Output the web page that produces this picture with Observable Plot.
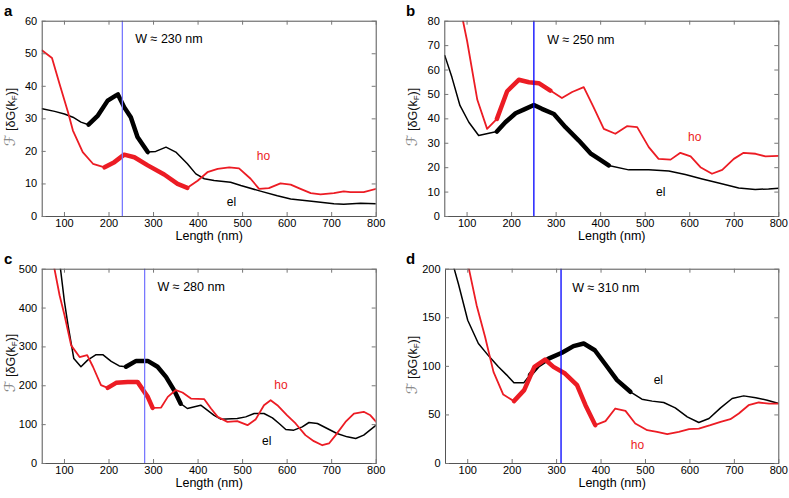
<!DOCTYPE html>
<html><head><meta charset="utf-8">
<script src="https://cdn.jsdelivr.net/npm/d3@7"></script>
<script src="https://cdn.jsdelivr.net/npm/@observablehq/plot@0.6"></script>
<style>
body{margin:0;background:#fff;font-family:"Liberation Sans",Arial,sans-serif;}
#root{position:relative;width:789px;height:498px;overflow:hidden;background:#fff}
.panel{position:absolute}
.letter{position:absolute;font-weight:bold;font-size:15px;line-height:1;color:#000}
.ylab{position:absolute;transform:translate(-50%,-50%) rotate(-90deg);white-space:nowrap;font-size:12.5px;color:#111;line-height:1}
.ylab .sf{color:#8a8a8a;font-family:"DejaVu Serif","DejaVu Sans",serif;font-style:italic;font-size:15px}
.ylab sub{font-size:8px;vertical-align:-2px}
</style></head><body><div id="root"></div><script>
// ---- data ----
const xTicks = [100, 200, 300, 400, 500, 600, 700, 800];

const aYTicks = [0, 10, 20, 30, 40, 50, 60];
const aElX = [50,78,100,119,137,154,175,197,216,220,234,249,264,287,305,328,350,376,395,414,436,473,496,540,578,608,660,705,727,765,800];
const aElY = [33.1,32.3,31.5,30.5,29,28.2,31,35.6,37.2,37.5,33.6,30.5,24.4,19.8,20,21.3,19.8,16.2,13.1,11.6,11.05,10.5,9.5,7.8,6.4,5.4,4.6,3.9,3.8,4.1,3.9];
const aHoX = [50,72,89,108,119,141,164,190,212,234,257,287,324,354,376,399,421,444,470,492,518,537,559,585,608,630,653,675,705,727,742,772,800];
const aHoY = [51,48.7,40.7,32,26.4,19.8,16.2,15.1,16.7,19,18.2,15.7,12.9,10,8.8,11,13.6,14.6,15.1,14.8,11.6,8.5,8.7,10.2,9.8,8.5,7.2,6.8,7.2,7.7,7.5,7.5,8.5];

const bYTicks = [0, 10, 20, 30, 40, 50, 60, 70, 80];
const bElX = [50,66,84,104,126,149,167,186,209,231,250,268,295,321,351,377,396,418,463,508,553,590,628,665,710,747,777,800];
const bElY = [65.9,57,45.5,38.6,33.2,34.1,34.8,38.6,42.3,44.1,45.7,44.1,42,36.6,31.1,25.9,23.6,20.9,19.1,19.1,18.6,17.2,15.4,13.7,11.7,11.1,11.3,11.6];
const bHoX = [91,100,123,145,167,190,216,239,261,287,313,336,362,384,407,433,459,482,508,530,557,579,602,624,650,673,699,721,748,770,800];
const bHoY = [80,72,47.8,35.9,40,51.3,56,55,54.6,51.6,48.5,51,53,44.8,35.9,33.9,37,36.6,28.4,23.6,23.3,26.1,24.6,20.2,17.5,19.1,23.6,26.1,25.7,24.6,24.8];

const cYTicks = [0, 100, 200, 300, 400, 500];
const cElX = [88,100,108,121,137,152,171,186,205,223,238,261,287,309,328,346,361,376,406,436,451,488,507,526,548,567,582,597,615,634,649,668,690,712,735,754,772,800];
const cElY = [530,416,356,270,249,266,280,280,263,251,249,264,264,249,223,189,154,141.5,150,124,114,116,120,128.6,128.6,117.5,103,87.5,85.8,94.3,105.5,103,90,77.2,68.6,64.3,72.9,98.6];
const cHoX = [76,89,100,115,134,151,164,182,197,216,242,264,287,298,317,332,350,365,384,414,429,444,466,488,511,529,548,563,578,600,619,641,660,679,694,709,731,750,772,787,800];
const cHoY = [510,433,382,304,274,279,249,201.5,194.7,207.5,210,210,171.5,143,144,171.5,189,182.7,167,165.5,141.5,120,107,109,98.6,113,150,163,150,124,103,73,57.5,47,51.5,73,107,128.6,133,124,107];

const dYTicks = [0, 50, 100, 150, 200];
const dElX = [68,79,100,124,147,169,188,204,226,240,259,282,312,338,361,386,410,436,466,492,515,541,567,594,620,643,669,695,721,748,774,800];
const dElY = [203,185,147.5,123.5,110.8,99.5,91,83,83,91,101,108,114,120.8,123.5,116.6,101.9,85.8,73.8,66.2,64.2,62.8,57.3,48,42.2,46.3,57.3,66.9,69.6,67.6,65.2,61.7];
const dHoX = [101,120,139,158,180,204,227,250,274,293,319,346,365,387,410,432,455,477,504,526,549,575,598,620,646,669,691,710,732,755,778,800];
const dHoY = [204,163,130.4,94.3,71,64.2,75.5,99.5,107,99.5,92.6,80.6,60,39.5,43.6,56.6,54.2,41.2,34.3,32.6,30.2,32.6,35.3,36,39.5,42.9,45.6,51.5,60,62.8,61.7,61.7];

// highlighted (thick) x-ranges and widths W
const thickEl = {a: [154, 287], b: [167, 418], c: [238, 361], d: [240, 466]};
const thickHo = {a: [190, 376], b: [167, 287], c: [197, 298], d: [204, 387]};
const widthW = {a: 230, b: 250, c: 280, d: 310};

// ---- layout ----
const RED = "#ec1c24";
const panels = [
  {id:"a", left:0, top:0, width:395, height:248, mL:41.7, mR:19.3, mT:20.7, mB:32, yDomain:[0,60], yTicks:aYTicks,
   elX:aElX, elY:aElY, hoX:aHoX, hoY:aHoY, blue:"#7878ff", wPos:[259,54.4], hoPos:[547,18.4], elPos:[475,4.3],
   letter:[4,3], ylab:[11,117]},
  {id:"b", left:395, top:0, width:394, height:248, mL:49.3, mR:10.7, mT:20.7, mB:32, yDomain:[0,80], yTicks:bYTicks,
   elX:bElX, elY:bElY, hoX:bHoX, hoY:bHoY, blue:"#0000ff", wPos:[280,72.5], hoPos:[611,32.5], elPos:[535,10],
   letter:[406,3], ylab:[412.5,117]},
  {id:"c", left:0, top:248, width:395, height:250, mL:41.7, mR:19.3, mT:20.7, mB:35, yDomain:[0,500], yTicks:cYTicks,
   elX:cElX, elY:cElY, hoX:cHoX, hoY:cHoY, blue:"#7878ff", wPos:[309,453], hoPos:[586,201], elPos:[554,57],
   letter:[4,251], ylab:[11,363]},
  {id:"d", left:395, top:248, width:394, height:250, mL:50, mR:10.7, mT:20.7, mB:35, yDomain:[0,200], yTicks:dYTicks,
   elX:dElX, elY:dElY, hoX:dHoX, hoY:dHoY, blue:"#0000ff", wPos:[335,181], hoPos:[482,19], elPos:[529,86],
   letter:[406,251], ylab:[412.5,365]}
];

const pts = (X, Y) => X.map((x, i) => ({x, y: Y[i]}));
const inRange = r => d => d.x >= r[0] && d.x <= r[1];
const root = document.getElementById("root");

for (const p of panels) {
  const innerW = p.width - p.mL - p.mR;
  const innerH = p.height - p.mT - p.mB;
  const el = pts(p.elX, p.elY), ho = pts(p.hoX, p.hoY);
  const chart = Plot.plot({
    width: p.width, height: p.height,
    marginLeft: p.mL, marginRight: p.mR, marginTop: p.mT, marginBottom: p.mB,
    x: {domain: [50, 800]},
    y: {domain: p.yDomain},
    style: {fontFamily: '"Liberation Sans", Arial, sans-serif', fontSize: "11px", color: "#000", background: "transparent", overflow: "visible"},
    marks: [
      Plot.line(el, {x: "x", y: "y", stroke: "#000", strokeWidth: 1.5, clip: true, strokeLinejoin: "round"}),
      Plot.line(el.filter(inRange(thickEl[p.id])), {x: "x", y: "y", stroke: "#000", strokeWidth: 4.5, clip: true, strokeLinejoin: "round"}),
      Plot.line(ho, {x: "x", y: "y", stroke: RED, strokeWidth: 1.8, clip: true, strokeLinejoin: "round"}),
      Plot.line(ho.filter(inRange(thickHo[p.id])), {x: "x", y: "y", stroke: RED, strokeWidth: 4.5, clip: true, strokeLinejoin: "round"}),
      Plot.ruleX([widthW[p.id]], {x: d => d, stroke: p.blue, strokeWidth: 1.3}),
      Plot.frame({stroke: "#555", strokeWidth: 1}),
      Plot.tickX(xTicks, {x: d => d, insetTop: innerH - 4, stroke: "#777"}),
      Plot.tickX(xTicks, {x: d => d, insetBottom: innerH - 4, stroke: "#777"}),
      Plot.tickY(p.yTicks, {y: d => d, insetRight: innerW - 4, stroke: "#777"}),
      Plot.tickY(p.yTicks, {y: d => d, insetLeft: innerW - 4, stroke: "#777"}),
      Plot.axisX(xTicks, {tickSize: 0, tickPadding: 3, label: null, fontSize: 11}),
      Plot.axisY(p.yTicks, {tickSize: 0, tickPadding: 5, label: null, fontSize: 11}),
      Plot.text(["Length (nm)"], {text: d => d, frameAnchor: "bottom", dy: 23, fontSize: 12.5}),
      Plot.text(["W ≈ " + widthW[p.id] + " nm"], {text: d => d, x: () => p.wPos[0], y: () => p.wPos[1], textAnchor: "start", fontSize: 12.5}),
      Plot.text(["ho"], {text: d => d, x: () => p.hoPos[0], y: () => p.hoPos[1], fill: RED, fontSize: 12}),
      Plot.text(["el"], {text: d => d, x: () => p.elPos[0], y: () => p.elPos[1], fill: "#000", fontSize: 12})
    ]
  });
  const wrap = document.createElement("div");
  wrap.className = "panel";
  wrap.style.left = p.left + "px";
  wrap.style.top = p.top + "px";
  wrap.appendChild(chart);
  root.appendChild(wrap);

  const letter = document.createElement("div");
  letter.className = "letter";
  letter.textContent = p.id;
  letter.style.left = p.letter[0] + "px";
  letter.style.top = p.letter[1] + "px";
  root.appendChild(letter);

  const yl = document.createElement("div");
  yl.className = "ylab";
  yl.innerHTML = '<span class="sf">ℱ</span> [δG(k<sub>F</sub>)]';
  yl.style.left = p.ylab[0] + "px";
  yl.style.top = p.ylab[1] + "px";
  root.appendChild(yl);
}
</script></body></html>
